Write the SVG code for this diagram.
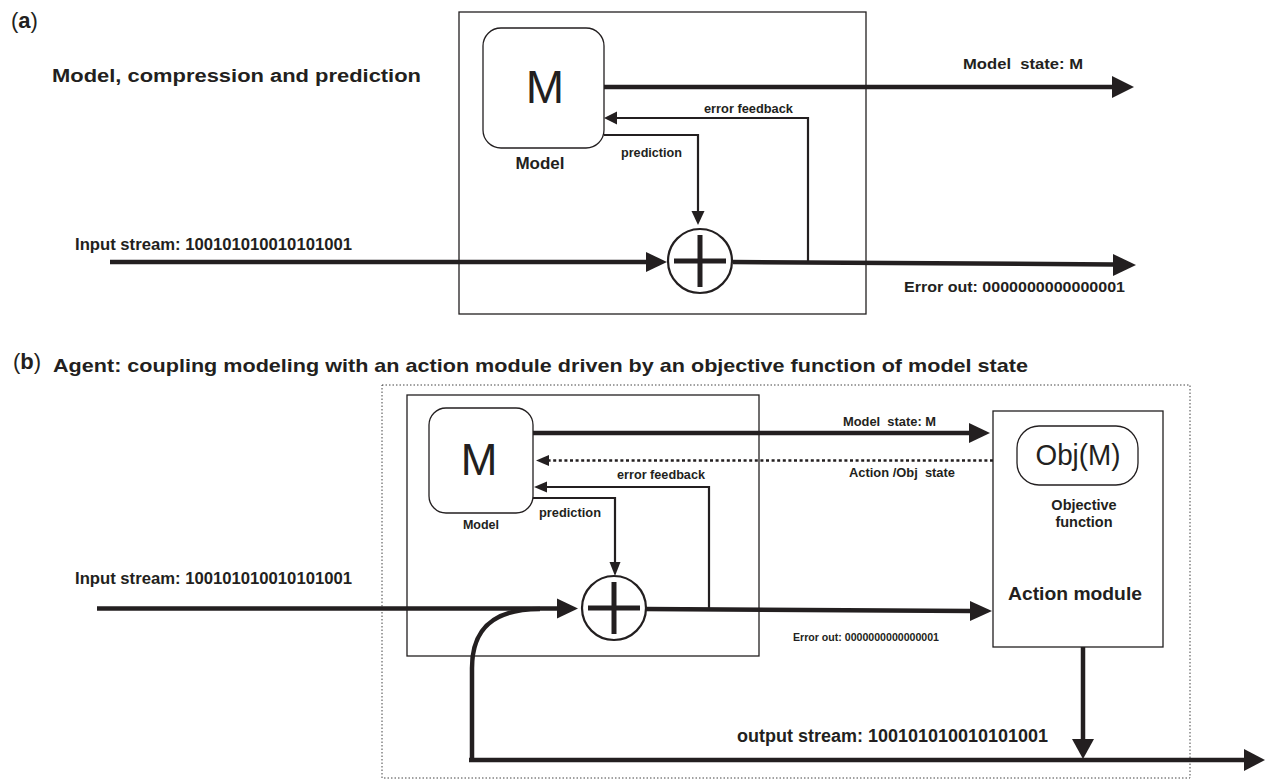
<svg xmlns="http://www.w3.org/2000/svg" width="1265" height="780" viewBox="0 0 1265 780">
<style>
text{font-family:"Liberation Sans",Arial,sans-serif;fill:#231f20}
.b{font-weight:bold}
.box{fill:#fff;stroke:#231f20;stroke-width:1.3}
.thick{fill:none;stroke:#231f20;stroke-width:4.5}
.thin{fill:none;stroke:#231f20;stroke-width:2.2}
.ah{fill:#231f20;stroke:none}
.sum{fill:#fff;stroke:#231f20;stroke-width:2.2}
.plus{stroke:#231f20;stroke-width:5}
</style>
<rect width="1265" height="780" fill="#fff"/>

<!-- Panel (a) -->
<g id="a-labels">
<text x="11" y="28" font-size="22">(<tspan class="b">a</tspan>)</text>
<text x="52" y="82" class="b" font-size="18" textLength="369" lengthAdjust="spacingAndGlyphs">Model, compression and prediction</text>
<text x="75" y="250" class="b" font-size="16.5" textLength="277" lengthAdjust="spacingAndGlyphs">Input stream: 100101010010101001</text>
<text x="963" y="69" class="b" font-size="15" xml:space="preserve" textLength="120" lengthAdjust="spacingAndGlyphs">Model  state: M</text>
<text x="904" y="292" class="b" font-size="15" textLength="221" lengthAdjust="spacingAndGlyphs">Error out: 0000000000000001</text>
</g>
<g id="a-frame"><rect x="459" y="12" width="407" height="302" fill="none" stroke="#231f20" stroke-width="1.3"/></g>
<g id="a-model">
<rect class="box" x="483" y="28" width="121" height="120" rx="18"/>
<text x="545" y="103" font-size="46" text-anchor="middle">M</text>
<text x="540" y="169" class="b" font-size="17" text-anchor="middle">Model</text>
</g>
<g id="a-connectors">
<line class="thick" x1="604" y1="87" x2="1114" y2="87"/>
<polygon class="ah" points="1134,87 1112,76 1112,98"/>
<polyline class="thin" points="808,262 808,118 615,118"/>
<polygon class="ah" points="604,118 617,111.5 617,124.5"/>
<text x="704" y="113" class="b" font-size="12.5" textLength="89" lengthAdjust="spacingAndGlyphs">error feedback</text>
<polyline class="thin" points="604,135 698,135 698,212"/>
<polygon class="ah" points="698,225 691.5,211 704.5,211"/>
<text x="621" y="157" class="b" font-size="12.5" textLength="61" lengthAdjust="spacingAndGlyphs">prediction</text>
<line class="thick" x1="110" y1="262" x2="648" y2="262" stroke-width="5"/>
<polygon class="ah" points="667,262 646,252 646,272"/>
<line class="thick" x1="733" y1="262" x2="1114" y2="264.5"/>
<polygon class="ah" points="1136,265 1113,254 1113,276"/>
</g>
<g id="a-sum">
<circle class="sum" cx="700" cy="261" r="32"/>
<line class="plus" x1="674" y1="261" x2="726" y2="261"/>
<line class="plus" x1="700" y1="235" x2="700" y2="287"/>
</g>

<!-- Panel (b) -->
<g id="b-labels">
<text x="13" y="369" font-size="22">(<tspan class="b">b</tspan>)</text>
<text x="53" y="372" class="b" font-size="19" textLength="975" lengthAdjust="spacingAndGlyphs">Agent: coupling modeling with an action module driven by an objective function of model state</text>
<text x="75" y="584" class="b" font-size="16.5" textLength="277" lengthAdjust="spacingAndGlyphs">Input stream: 100101010010101001</text>
<text x="843" y="426" class="b" font-size="12.9" xml:space="preserve" textLength="93" lengthAdjust="spacingAndGlyphs">Model  state: M</text>
<text x="849" y="477" class="b" font-size="12.9" xml:space="preserve" textLength="106" lengthAdjust="spacingAndGlyphs">Action /Obj  state</text>
<text x="793" y="641" class="b" font-size="10" textLength="146" lengthAdjust="spacingAndGlyphs">Error out: 0000000000000001</text>
<text x="737" y="742" class="b" font-size="18" textLength="311" lengthAdjust="spacingAndGlyphs">output stream: 100101010010101001</text>
</g>
<g id="b-frame">
<rect x="382" y="385" width="808" height="393" fill="none" stroke="#444" stroke-width="1" stroke-dasharray="1.5,2"/>
<rect x="407" y="395" width="352" height="261" fill="none" stroke="#231f20" stroke-width="1.3"/>
</g>
<g id="b-model">
<rect class="box" x="429" y="408" width="104" height="105" rx="17"/>
<text x="479" y="475" font-size="44" text-anchor="middle">M</text>
<text x="481" y="529" class="b" font-size="12.5" text-anchor="middle">Model</text>
</g>
<g id="b-action">
<rect class="box" x="993" y="411" width="170" height="236"/>
<rect class="box" x="1017" y="426" width="121" height="59" rx="22"/>
<text x="1078" y="465" font-size="30" text-anchor="middle" textLength="85" lengthAdjust="spacingAndGlyphs">Obj(M)</text>
<text x="1084" y="510" class="b" font-size="14.5" text-anchor="middle">Objective</text>
<text x="1084" y="527" class="b" font-size="14.5" text-anchor="middle">function</text>
<text x="1008" y="600" class="b" font-size="18" textLength="134" lengthAdjust="spacingAndGlyphs">Action module</text>
</g>
<g id="b-connectors">
<line class="thick" x1="533" y1="433" x2="971" y2="433"/>
<polygon class="ah" points="990,433 969,423 969,443"/>
<line x1="993" y1="460.5" x2="548" y2="460.5" stroke="#231f20" stroke-width="2.6" stroke-dasharray="3,2.6"/>
<polygon class="ah" points="536,460.5 549,455 549,466"/>
<polyline class="thin" points="709,609 709,487 545,487"/>
<polygon class="ah" points="534,487 547,481.5 547,492.5"/>
<text x="617" y="479" class="b" font-size="12.7" textLength="88" lengthAdjust="spacingAndGlyphs">error feedback</text>
<polyline class="thin" points="533,498 615,498 615,563"/>
<polygon class="ah" points="615,576 609.5,562 620.5,562"/>
<text x="539" y="517" class="b" font-size="12.7" textLength="62" lengthAdjust="spacingAndGlyphs">prediction</text>
<line class="thick" x1="97" y1="608.5" x2="559" y2="608.5" stroke-width="5"/>
<polygon class="ah" points="578,608.5 557,598.5 557,618.5"/>
<path class="thick" stroke-width="6" d="M472,760 L472,668 C472,628 494,609 540,609"/>
<line class="thick" x1="645" y1="609" x2="971" y2="611"/>
<polygon class="ah" points="992,611 970,601 970,621"/>
<line class="thick" x1="1083" y1="647" x2="1083" y2="741"/>
<polygon class="ah" points="1083,759 1072,739 1094,739"/>
<line class="thick" x1="469" y1="760" x2="1246" y2="760" stroke-width="5.5"/>
<polygon class="ah" points="1265,760 1244,749 1244,771"/>
</g>
<g id="b-sum">
<circle class="sum" cx="614" cy="608" r="32"/>
<line class="plus" x1="588" y1="608" x2="640" y2="608"/>
<line class="plus" x1="614" y1="582" x2="614" y2="634"/>
</g>
</svg>
